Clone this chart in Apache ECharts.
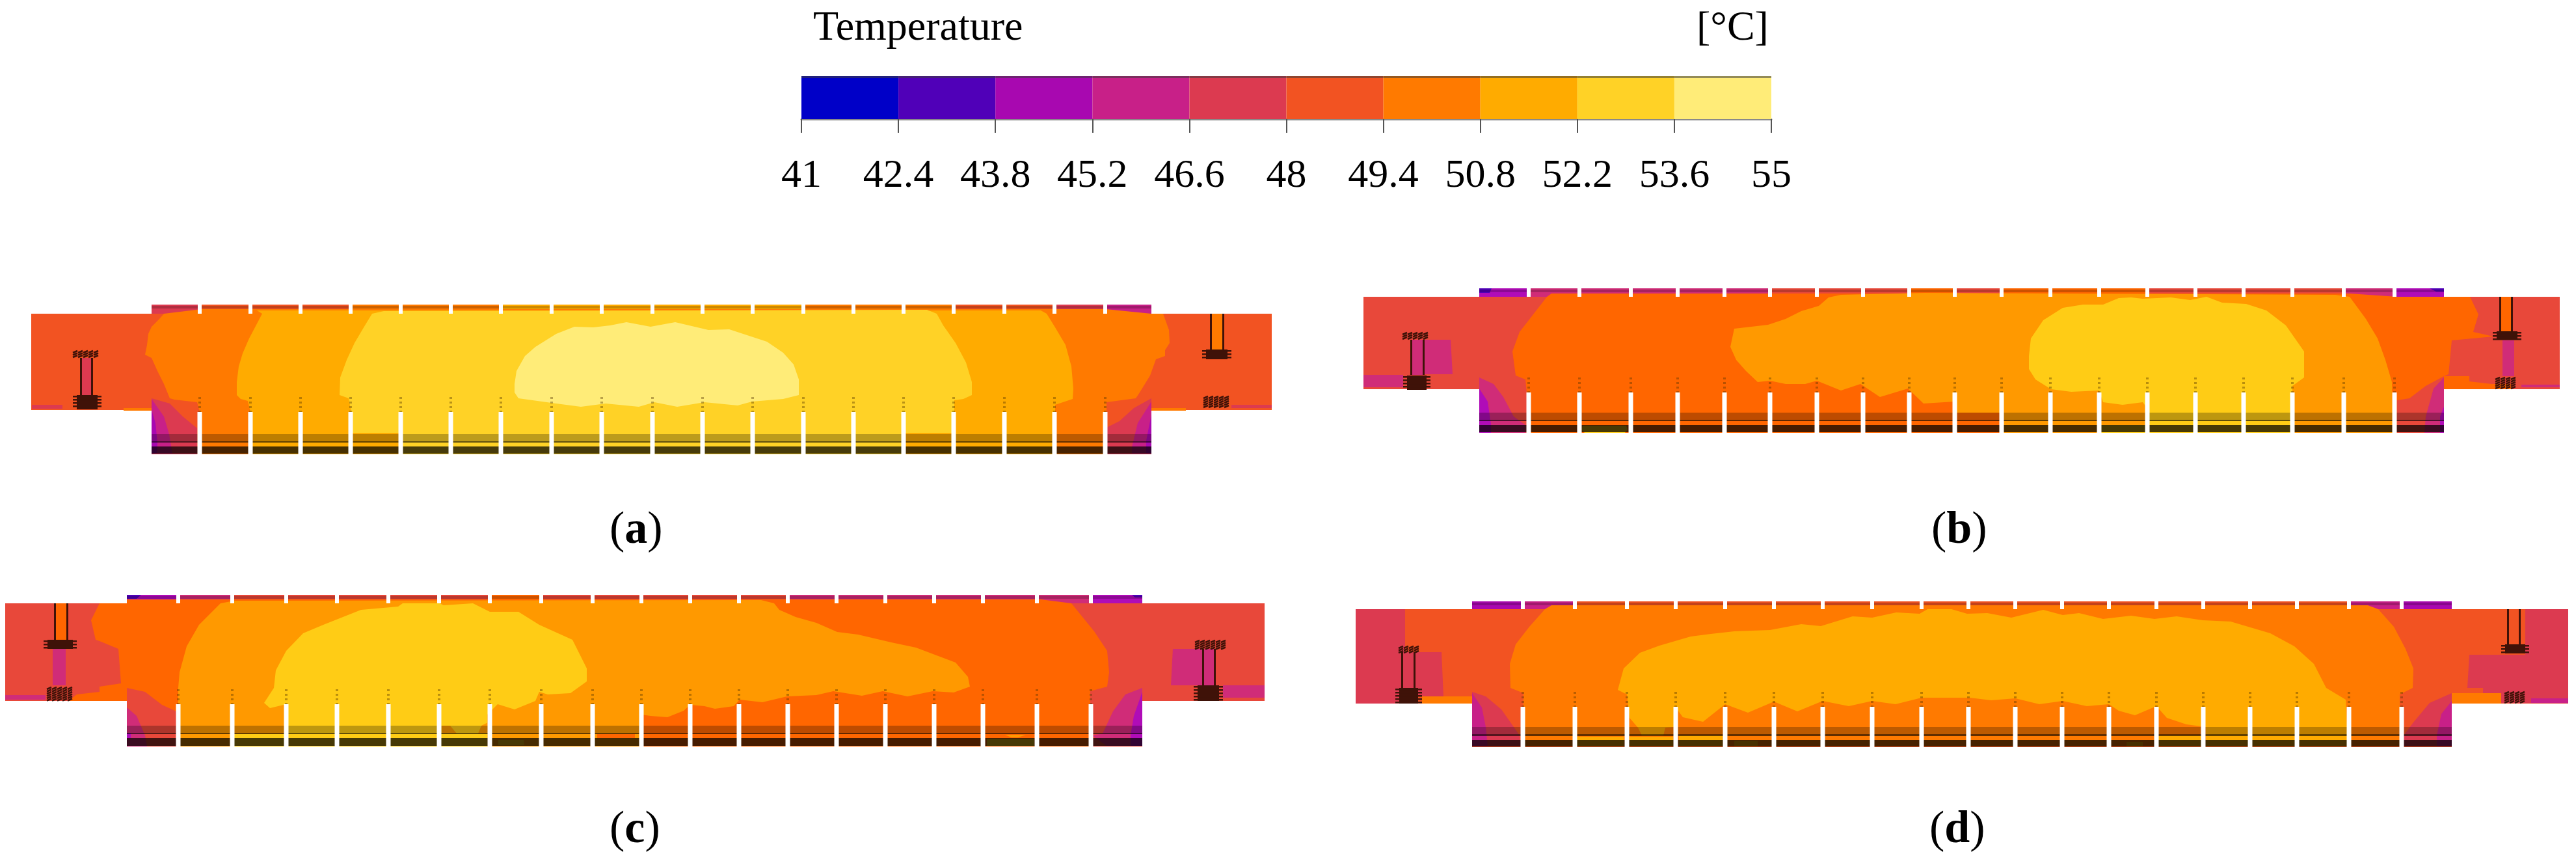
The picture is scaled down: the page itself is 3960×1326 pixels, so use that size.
<!DOCTYPE html>
<html>
<head>
<meta charset="utf-8">
<title>Temperature contours</title>
<script src="https://cdn.jsdelivr.net/npm/echarts@6/dist/echarts.min.js"></script>
<style>
    html, body { margin: 0; background: #fff; }
    #chart { width: 3960px; height: 1326px; }
</style>
</head>
<body>
<div id="chart"></div>
<script>
// colour scale
const tickLabels = ['41', '42.4', '43.8', '45.2', '46.6', '48', '49.4', '50.8', '52.2', '53.6', '55'];
const levelColors = ['#0000c8', '#5000b8', '#a808b0', '#c82088', '#dc3a50', '#f25322', '#ff7a00', '#ffab00', '#ffd226', '#ffec78'];
const levelColorsAlt = ['#0000c8', '#5000b8', '#b00cb8', '#d02c78', '#dc3a50', '#e8483a', '#ff6600', '#ff9900', '#ffcc15', '#ffec78'];

// outline of each case: stub left, body left, body right, stub right, top, neck, stub bottom, bottom
const frameA = [48, 233, 1770, 1955, 468, 482, 630, 698];
const frameB = [2096, 2274, 3757, 3935, 443, 456, 598, 665];
const frameC = [8, 195, 1756, 1944, 914, 927, 1077, 1147];
const frameD = [2084, 2263, 3769, 3948, 924, 936, 1081, 1148];

// partitions between the compartments
const slotsA = [307, 385, 462, 539, 616, 693, 770, 848, 925, 1003, 1080, 1157, 1235, 1312, 1389, 1466, 1544, 1621, 1699];
const slotsB = [2350, 2428, 2507, 2579, 2651, 2721, 2793, 2864, 2935, 3005, 3077, 3152, 3227, 3301, 3375, 3449, 3524, 3603, 3681];
const slotsC = [274, 357, 440, 518, 597, 675, 753, 832, 911, 986, 1061, 1136, 1211, 1286, 1361, 1436, 1511, 1594, 1677];
const slotsD = [2341, 2421, 2501, 2576, 2652, 2727, 2802, 2878, 2954, 3026, 3098, 3170, 3242, 3315, 3387, 3459, 3531, 3611, 3692];

// level of the strip along the top of each compartment
const topLevelsA = [4, 5, 5, 5, 6, 6, 6, 7, 7, 7, 7, 7, 7, 6, 6, 6, 5, 5, 4, 3];
const topLevelsB = [2, 3, 3, 3, 3, 3, 5, 5, 5, 6, 5, 6, 6, 6, 5, 5, 5, 5, 3, 2];
const topLevelsC = [2, 3, 5, 5, 5, 5, 5, 6, 5, 5, 5, 5, 5, 3, 3, 3, 3, 3, 3, 2];
const topLevelsD = [2, 3, 5, 5, 5, 5, 5, 5, 5, 5, 5, 5, 5, 5, 5, 5, 5, 5, 3, 2];

// horizontal layers at the bottom: band top, band bottom, dark line bottom, dark strip top, dark strip bottom
const layersA = [667, 678, 680, 686, 697];
const layersB = [634, 645, 647, 653, 664];
const layersC = [1115, 1126, 1128, 1134, 1146];
const layersD = [1117, 1128, 1131, 1137, 1147];

// (a) contours
const contourA6 = [[252, 482], [245, 490], [233, 502], [228, 513], [226, 530], [223, 545], [233, 550], [242, 570], [252, 590], [261, 612], [268, 614], [303, 618], [307, 633], [307, 698], [1701, 698], [1701, 618], [1746, 612], [1752, 603], [1768, 577], [1777, 552], [1791, 547], [1791, 538], [1798, 527], [1797, 507], [1788, 482], [1770, 482], [1700, 475], [310, 475]];
const contourA7 = [[403, 482], [392, 503], [383, 520], [373, 543], [367, 563], [364, 587], [364, 607], [370, 613], [381, 616], [385, 633], [385, 698], [1622, 698], [1622, 622], [1649, 613], [1650, 597], [1647, 563], [1638, 530], [1622, 503], [1609, 482], [1600, 477], [395, 477]];
const contourA8 = [[572, 482], [561, 500], [545, 527], [533, 553], [523, 580], [522, 607], [536, 612], [540, 633], [540, 665], [617, 665], [617, 698], [1390, 698], [1390, 665], [1467, 665], [1467, 615], [1481, 613], [1494, 607], [1494, 587], [1485, 557], [1469, 527], [1450, 500], [1440, 482], [1425, 476], [590, 478]];
const contourA9 = [[791, 590], [794, 570], [807, 547], [823, 533], [855, 513], [883, 502], [912, 503], [938, 500], [963, 495], [1000, 502], [1038, 495], [1089, 507], [1121, 506], [1179, 525], [1204, 542], [1220, 560], [1228, 583], [1228, 607], [1204, 613], [1156, 617], [1134, 623], [1083, 618], [1041, 625], [1006, 618], [982, 625], [931, 620], [893, 625], [855, 620], [797, 612], [791, 603]];
const cornersA = [
    [4, [[233, 612], [261, 620], [281, 640], [303, 658], [303, 698], [233, 698]]],
    [3, [[233, 613], [252, 640], [260, 667], [265, 697], [233, 697]]],
    [2, [[233, 630], [239, 650], [242, 680], [241, 696], [233, 697]]],
    [4, [[1770, 612], [1743, 627], [1721, 647], [1701, 657], [1701, 698], [1770, 698]]],
    [3, [[1770, 617], [1749, 650], [1740, 687], [1740, 697], [1770, 697]]],
    [2, [[1770, 637], [1762, 677], [1762, 696], [1770, 697]]]
];
const patchesA = [
    [7, [[560, 667], [600, 665], [615, 667], [590, 671], [565, 671]]],
    [7, [[552, 693], [600, 686], [616, 697], [552, 697]]],
    [7, [[1400, 688], [1460, 692], [1460, 697], [1400, 697]]]
];
const fillsA = [
    [4, [[49, 622], [96, 622], [96, 628], [49, 628]]],
    [6, [[190, 627], [233, 627], [233, 631], [190, 631]]],
    [4, [[1893, 622], [1955, 622], [1955, 627], [1893, 627]]],
    [6, [[1770, 627], [1823, 627], [1823, 631], [1770, 631]]]
];
const rodsA = [[123, 143, 550, 607, 4], [1860, 1882, 482, 538, 6]];
const coilsA = [[112, 607, 156, 629, 'solid'], [110, 538, 156, 550, 'hatch'], [1848, 537, 1893, 552, 'solid'], [1848, 608, 1893, 628, 'hatch']];

// (b) contours
const contourB6 = [[2378, 456], [2357, 483], [2336, 510], [2325, 540], [2330, 577], [2345, 583], [2347, 603], [2347, 665], [3685, 665], [3685, 615], [3704, 612], [3729, 593], [3757, 578], [3764, 575], [3769, 523], [3833, 517], [3802, 510], [3810, 483], [3797, 456], [3685, 456], [3612, 451], [2385, 451]];
const contourB7 = [[2811, 457], [2796, 470], [2769, 478], [2745, 490], [2718, 499], [2666, 505], [2660, 533], [2669, 553], [2684, 570], [2702, 587], [2721, 585], [2745, 590], [2775, 590], [2793, 585], [2830, 600], [2860, 590], [2890, 610], [2933, 597], [2957, 620], [3005, 617], [3005, 634], [3077, 634], [3077, 665], [3678, 665], [3678, 633], [3677, 587], [3667, 553], [3655, 520], [3637, 490], [3612, 456], [3590, 453], [2960, 450], [2830, 453]];
const contourB8 = [[3119, 547], [3122, 520], [3141, 492], [3171, 473], [3202, 468], [3233, 468], [3257, 458], [3276, 457], [3294, 459], [3337, 457], [3367, 461], [3392, 456], [3416, 465], [3453, 467], [3484, 477], [3514, 500], [3542, 540], [3542, 580], [3524, 593], [3524, 665], [3303, 665], [3303, 630], [3294, 618], [3263, 622], [3233, 618], [3227, 600], [3184, 602], [3153, 598], [3129, 583], [3119, 567]];
const cornersB = [
    [3, [[2274, 580], [2296, 590], [2311, 610], [2327, 640], [2345, 653], [2345, 665], [2274, 665]]],
    [2, [[2274, 597], [2287, 617], [2292, 652], [2292, 665], [2274, 665]]],
    [1, [[2274, 443], [2293, 443], [2290, 450], [2274, 450]]],
    [3, [[3757, 580], [3741, 597], [3729, 640], [3727, 665], [3757, 665]]],
    [2, [[3757, 625], [3751, 640], [3751, 665], [3757, 665]]],
    [1, [[3735, 443], [3757, 443], [3757, 448], [3745, 448]]]
];
const patchesB = [
    [8, [[2433, 654], [2500, 654], [2502, 660], [2498, 665], [2436, 665], [2431, 660]]],
    [8, [[3230, 653], [3298, 653], [3298, 665], [3230, 665]]]
];
const fillsB = [
    [3, [[2187, 522], [2230, 522], [2233, 575], [2187, 575]]],
    [3, [[2096, 576], [2157, 576], [2157, 595], [2096, 595]]],
    [3, [[3847, 523], [3865, 523], [3865, 578], [3847, 578]]],
    [3, [[3876, 591], [3935, 591], [3935, 595], [3876, 595]]],
    [6, [[3757, 578], [3796, 578], [3796, 586], [3830, 590], [3860, 590], [3860, 598], [3757, 598]]]
];
const rodsB = [[2168, 2190, 522, 576, 3], [3842, 3863, 456, 509, 6]];
const coilsB = [[2157, 577, 2199, 599, 'solid'], [2154, 510, 2196, 522, 'hatch'], [3832, 509, 3876, 522, 'solid'], [3834, 579, 3873, 597, 'hatch']];

// (c) contours
const contourC6 = [[153, 927], [140, 953], [147, 983], [153, 985], [182, 997], [186, 1050], [153, 1055], [153, 1063], [118, 1067], [105, 1077], [195, 1077], [195, 1057], [223, 1063], [249, 1083], [271, 1093], [271, 1147], [1676, 1147], [1676, 1062], [1702, 1055], [1705, 1033], [1702, 1000], [1682, 970], [1647, 927], [1600, 921], [195, 921], [195, 927]];
const contourC7 = [[339, 927], [306, 960], [287, 993], [276, 1033], [274, 1057], [274, 1147], [986, 1147], [986, 1098], [1000, 1100], [1026, 1102], [1051, 1092], [1061, 1083], [1083, 1085], [1099, 1089], [1128, 1085], [1137, 1075], [1172, 1079], [1210, 1070], [1255, 1068], [1281, 1062], [1325, 1069], [1357, 1062], [1395, 1070], [1434, 1062], [1466, 1064], [1491, 1055], [1488, 1040], [1469, 1018], [1408, 995], [1370, 987], [1319, 975], [1287, 971], [1255, 957], [1223, 948], [1198, 937], [1190, 927], [1170, 922], [360, 923]];
const contourC8 = [[415, 1088], [406, 1080], [421, 1057], [424, 1030], [440, 1000], [466, 973], [497, 960], [555, 937], [612, 932], [619, 927], [676, 927], [682, 930], [727, 927], [753, 940], [797, 940], [829, 960], [880, 983], [902, 1027], [902, 1047], [877, 1065], [842, 1067], [829, 1063], [823, 1077], [791, 1090], [765, 1082], [749, 1098], [749, 1147], [440, 1147], [440, 1082]];
const cornersC = [
    [3, [[195, 1087], [210, 1100], [223, 1130], [226, 1147], [195, 1147]]],
    [2, [[195, 1126], [201, 1126], [201, 1134], [195, 1134]]],
    [1, [[195, 914], [217, 914], [210, 920], [195, 920]]],
    [3, [[1756, 1057], [1730, 1067], [1711, 1093], [1695, 1127], [1679, 1130], [1701, 1146], [1756, 1146]]],
    [2, [[1756, 1063], [1743, 1100], [1738, 1130], [1738, 1146], [1756, 1146]]],
    [1, [[1740, 914], [1756, 914], [1756, 918], [1745, 918]]]
];
const patchesC = [
    [8, [[360, 1128], [437, 1128], [437, 1147], [360, 1147]]],
    [7, [[679, 1115], [692, 1115], [702, 1127], [679, 1127]]],
    [7, [[740, 1115], [750, 1110], [750, 1127], [735, 1127]]],
    [8, [[766, 1137], [805, 1137], [806, 1145], [766, 1145]]],
    [7, [[918, 1115], [976, 1115], [962, 1128], [932, 1128]]],
    [6, [[918, 1128], [976, 1128], [976, 1134], [918, 1134]]],
    [7, [[918, 1136], [950, 1134], [976, 1147], [918, 1147]]],
    [8, [[1517, 1135], [1590, 1135], [1590, 1146], [1517, 1146]]],
    [7, [[1545, 1129], [1577, 1129], [1565, 1133], [1555, 1133]]]
];
const fillsC = [
    [3, [[81, 997], [101, 997], [101, 1053], [81, 1053]]],
    [3, [[8, 1068], [70, 1068], [70, 1075], [8, 1075]]],
    [3, [[1803, 997], [1869, 997], [1869, 1053], [1800, 1053]]],
    [3, [[1880, 1053], [1944, 1053], [1944, 1072], [1880, 1072]]]
];
const rodsC = [[83, 105, 927, 983, 6], [1848, 1869, 997, 1053, 3]];
const coilsC = [[67, 983, 118, 997, 'solid'], [70, 1055, 118, 1077, 'hatch'], [1835, 1053, 1880, 1077, 'solid'], [1835, 983, 1886, 997, 'hatch']];

// (d) contours
const contourD6 = [[2375, 936], [2351, 963], [2330, 990], [2321, 1020], [2322, 1057], [2342, 1065], [2342, 1147], [3689, 1147], [3689, 1067], [3709, 1057], [3710, 1027], [3698, 997], [3680, 963], [3656, 936], [3640, 930], [2385, 930]];
const contourD7 = [[2487, 1060], [2496, 1027], [2521, 1003], [2551, 992], [2599, 978], [2630, 974], [2666, 970], [2721, 968], [2769, 959], [2799, 962], [2848, 947], [2878, 949], [2915, 941], [2951, 943], [2963, 936], [3000, 936], [3024, 943], [3055, 942], [3092, 949], [3141, 937], [3171, 945], [3196, 942], [3233, 951], [3276, 946], [3312, 951], [3346, 947], [3386, 953], [3429, 955], [3490, 973], [3527, 993], [3557, 1020], [3576, 1057], [3606, 1075], [3608, 1117], [3608, 1147], [3391, 1147], [3391, 1117], [3361, 1113], [3331, 1103], [3315, 1085], [3282, 1099], [3257, 1092], [3242, 1082], [3208, 1085], [3171, 1077], [3135, 1082], [3098, 1073], [3061, 1076], [3028, 1072], [2954, 1072], [2914, 1082], [2878, 1077], [2842, 1085], [2802, 1077], [2763, 1093], [2727, 1078], [2687, 1095], [2652, 1082], [2618, 1109], [2587, 1102], [2576, 1087], [2575, 1117], [2560, 1118], [2557, 1130], [2524, 1130], [2518, 1118], [2505, 1103], [2501, 1067]];
const cornersD = [
    [4, [[2263, 1063], [2284, 1070], [2308, 1090], [2327, 1117], [2336, 1130], [2338, 1147], [2263, 1147]]],
    [3, [[2263, 1065], [2278, 1087], [2284, 1117], [2287, 1147], [2263, 1147]]],
    [4, [[3769, 1065], [3735, 1080], [3710, 1110], [3695, 1130], [3695, 1147], [3769, 1147]]],
    [3, [[3769, 1077], [3753, 1097], [3746, 1130], [3746, 1147], [3769, 1147]]]
];
const patchesD = [
    [7, [[2424, 1132], [2496, 1132], [2496, 1147], [2424, 1147]]],
    [7, [[2505, 1132], [2572, 1132], [2572, 1147], [2505, 1147]]],
    [7, [[2581, 1130], [2648, 1130], [2648, 1147], [2581, 1147]]],
    [7, [[2666, 1138], [2702, 1138], [2702, 1147], [2666, 1147]]],
    [7, [[3269, 1140], [3294, 1140], [3294, 1147], [3269, 1147]]],
    [7, [[3318, 1130], [3386, 1130], [3386, 1147], [3318, 1147]]]
];
const fillsD = [
    [4, [[2084, 936], [2160, 936], [2160, 1081], [2084, 1081]]],
    [4, [[2160, 1002], [2216, 1002], [2219, 1070], [2160, 1070]]],
    [6, [[2186, 1070], [2263, 1070], [2263, 1081], [2186, 1081]]],
    [4, [[3882, 936], [3948, 936], [3948, 1081], [3817, 1080], [3817, 1057], [3793, 1057], [3796, 1006], [3882, 1006]]],
    [6, [[3769, 1065], [3845, 1065], [3845, 1081], [3769, 1081]]],
    [3, [[3891, 1073], [3948, 1073], [3948, 1080], [3891, 1080]]]
];
const rodsD = [[2154, 2176, 1002, 1057, 4], [3854, 3875, 936, 990, 5]];
const coilsD = [[2145, 1057, 2186, 1081, 'solid'], [2148, 992, 2181, 1003, 'hatch'], [3845, 990, 3888, 1004, 'solid'], [3848, 1062, 3885, 1081, 'hatch']];

const DARK = '#3f1208';

function box(x0, y0, x1, y1) {
    return [[x0, y0], [x1, y0], [x1, y1], [x0, y1]];
}

// turn one case into a painter-ordered list of marks
function buildMarks(p) {
    const [sl, bl, br, sr, top, neck, stubBottom, bottom] = p.frame;
    const [b0, b1, b2, b3, b4] = p.layers;
    const colors = p.colors;
    const marks = [];
    const poly = (pts, fill, opacity) => marks.push({ pts, fill, opacity: opacity === undefined ? 1 : opacity });
    const edges = [bl, ...p.slots, br];

    poly(box(sl, neck, sr, stubBottom), colors[5]);
    poly(box(bl, neck, br, bottom), colors[5]);
    p.topLevels.forEach((level, i) => poly(box(edges[i], top, edges[i + 1], neck), colors[level]));
    p.fills.forEach(([level, pts]) => poly(pts, colors[level]));
    p.corners.forEach(([level, pts]) => poly(pts, colors[level]));
    p.contours.forEach(([level, pts]) => poly(pts, colors[level]));
    p.patches.forEach(([level, pts]) => poly(pts, colors[level]));

    // darker layers across the compartments
    poly(box(bl, top + 2, br, top + 6), '#000', 0.2);
    poly(box(bl, b0, br, b1), '#000', 0.26);
    poly(box(bl, b1, br, b2), '#000', 0.62);
    poly(box(bl, b3, br, b4), '#000', 0.72);

    // partitions
    p.slots.forEach((x) => {
        poly(box(x - 3, top, x + 3, neck), '#fff');
        poly(box(x - 3.5, p.slotTop, x + 3.5, bottom + 1), '#fff');
        marks.push({ line: [[x, p.slotTop - 23], [x, p.slotTop]], stroke: 'rgba(80,50,0,0.4)', width: 4, dash: [3, 4] });
    });

    p.rods.forEach(([x0, x1, y0, y1, level]) => {
        poly(box(x0, y0, x1, y1), colors[level]);
        poly(box(x0, y0, x0 + 3, y1), DARK);
        poly(box(x1 - 3, y0, x1, y1), DARK);
    });
    p.coils.forEach(([x0, y0, x1, y1, kind]) => marks.push({ coil: [x0, y0, x1, y1], kind }));
    return marks;
}

function makeRenderItem(marks) {
    return function (params, api) {
        const m = marks[params.dataIndex];
        if (m.pts) {
            return {
                type: 'polygon',
                shape: { points: m.pts.map((pt) => api.coord(pt)) },
                style: { fill: m.fill, opacity: m.opacity }
            };
        }
        if (m.line) {
            const a = api.coord(m.line[0]);
            const b = api.coord(m.line[1]);
            return {
                type: 'line',
                shape: { x1: a[0], y1: a[1], x2: b[0], y2: b[1] },
                style: { stroke: m.stroke, lineWidth: m.width, lineDash: m.dash, fill: null }
            };
        }
        const a = api.coord([m.coil[0], m.coil[1]]);
        const b = api.coord([m.coil[2], m.coil[3]]);
        const children = [];
        const w = b[0] - a[0];
        const h = b[1] - a[1];
        if (m.kind === 'solid') {
            children.push({ type: 'rect', shape: { x: a[0] + 6, y: a[1], width: w - 12, height: h }, style: { fill: DARK } });
            for (let y = a[1] + 1; y < b[1] - 1; y += 5) {
                children.push({ type: 'rect', shape: { x: a[0], y: y, width: w, height: 2.5 }, style: { fill: DARK } });
            }
        } else {
            for (let y = a[1] + 2; y < b[1] - 1; y += 3.5) {
                for (let x = a[0] + 2; x < b[0] - 6; x += 8) {
                    children.push({
                        type: 'line',
                        shape: { x1: x, y1: y + 2, x2: x + 7, y2: y - 1 },
                        style: { stroke: DARK, lineWidth: 2.5 }
                    });
                }
            }
        }
        return { type: 'group', children };
    };
}

const cases = [
    {
        frame: frameA, slots: slotsA, topLevels: topLevelsA, layers: layersA, slotTop: 633, colors: levelColors,
        contours: [[6, contourA6], [7, contourA7], [8, contourA8], [9, contourA9]],
        corners: cornersA, patches: patchesA, fills: fillsA, rods: rodsA, coils: coilsA
    },
    {
        frame: frameB, slots: slotsB, topLevels: topLevelsB, layers: layersB, slotTop: 603, colors: levelColorsAlt,
        contours: [[6, contourB6], [7, contourB7], [8, contourB8]],
        corners: cornersB, patches: patchesB, fills: fillsB, rods: rodsB, coils: coilsB
    },
    {
        frame: frameC, slots: slotsC, topLevels: topLevelsC, layers: layersC, slotTop: 1082, colors: levelColorsAlt,
        contours: [[6, contourC6], [7, contourC7], [8, contourC8]],
        corners: cornersC, patches: patchesC, fills: fillsC, rods: rodsC, coils: coilsC
    },
    {
        frame: frameD, slots: slotsD, topLevels: topLevelsD, layers: layersD, slotTop: 1086, colors: levelColors,
        contours: [[6, contourD6], [7, contourD7]],
        corners: cornersD, patches: patchesD, fills: fillsD, rods: rodsD, coils: coilsD
    }
];

const grids = [];
const xAxes = [];
const yAxes = [];
const series = [];

cases.forEach((p, i) => {
    const [sl, , , sr, top, , , bottom] = p.frame;
    const marks = buildMarks(p);
    grids.push({ left: sl, top: top, width: sr - sl, height: bottom - top });
    xAxes.push({ type: 'value', gridIndex: i, min: sl, max: sr, show: false });
    yAxes.push({ type: 'value', gridIndex: i, min: top, max: bottom, inverse: true, show: false });
    series.push({
        type: 'custom',
        name: 'Case ' + 'abcd'[i],
        xAxisIndex: i,
        yAxisIndex: i,
        clip: false,
        silent: true,
        animation: false,
        renderItem: makeRenderItem(marks),
        data: marks.map((m, k) => [sl, top, k])
    });
});

// colour bar
grids.push({ left: 1232, top: 117, width: 1491, height: 66 });
xAxes.push({
    type: 'category',
    gridIndex: 4,
    data: tickLabels,
    boundaryGap: false,
    axisLine: { show: true, onZero: false, lineStyle: { color: '#8a8a8a', width: 3 } },
    axisTick: { show: true, length: 21, alignWithLabel: true, lineStyle: { color: '#555', width: 2 } },
    axisLabel: { show: true, interval: 0, color: '#000', fontFamily: 'Liberation Serif', fontSize: 62, margin: 57, hideOverlap: false, showMinLabel: true, showMaxLabel: true },
    splitLine: { show: false }
});
yAxes.push({ type: 'value', gridIndex: 4, min: 0, max: 1, show: false });
series.push({
    type: 'custom',
    name: 'Temperature',
    xAxisIndex: 4,
    yAxisIndex: 4,
    silent: true,
    animation: false,
    renderItem(params, api) {
        const i = params.dataIndex;
        const a = api.coord([i, 1]);
        const b = api.coord([i + 1, 0]);
        return {
            type: 'group',
            children: [
                { type: 'rect', shape: { x: a[0], y: a[1], width: b[0] - a[0], height: b[1] - a[1] }, style: { fill: levelColors[i] } },
                { type: 'rect', shape: { x: a[0], y: a[1], width: b[0] - a[0], height: 3 }, style: { fill: 'rgba(60,60,60,0.55)' } }
            ]
        };
    },
    data: levelColors.map((c, i) => [i, 1])
});

function label(text, x, y, size) {
    return { type: 'text', x, y, style: { text, fontFamily: 'Liberation Serif', fontSize: size, fill: '#000', textVerticalAlign: 'bottom' } };
}

function caseLabel(letter, x, y) {
    return {
        type: 'text', x, y,
        style: {
            text: '{p|(}{b|' + letter + '}{p|)}',
            textVerticalAlign: 'bottom',
            rich: {
                p: { fontFamily: 'Liberation Serif', fontSize: 70, fill: '#000' },
                b: { fontFamily: 'Liberation Serif', fontWeight: 'bold', fontSize: 70, fill: '#000' }
            }
        }
    };
}

const chart = echarts.init(document.getElementById('chart'), null, { renderer: 'canvas' });
chart.setOption({
    backgroundColor: '#fff',
    animation: false,
    grid: grids,
    xAxis: xAxes,
    yAxis: yAxes,
    series: series,
    graphic: [
        label('Temperature', 1250, 76, 64),
        label('[°C]', 2608, 76, 64),
        caseLabel('a', 937, 851),
        caseLabel('b', 2969, 851),
        caseLabel('c', 937, 1311),
        caseLabel('d', 2966, 1311)
    ]
});
</script>
</body>
</html>
